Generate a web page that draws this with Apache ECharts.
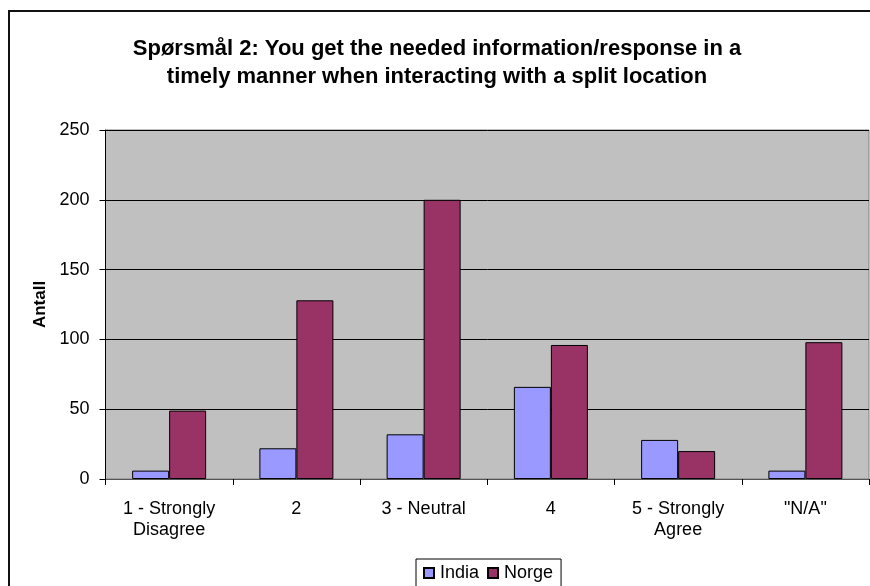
<!DOCTYPE html>
<html>
<head>
<meta charset="utf-8">
<script src="https://cdn.jsdelivr.net/npm/echarts@6/dist/echarts.min.js"></script>
<style>html,body{margin:0;padding:0;background:#fff;}#c{width:870px;height:586px;}</style>
</head>
<body>
<div id="c"></div>
<script>
const categories = ['1 - Strongly\nDisagree', '2', '3 - Neutral', '4', '5 - Strongly\nAgree', '"N/A"'];
const india = [6, 22, 32, 66, 28, 6];
const norge = [49, 128, 200, 96, 20, 98];
const yTicks = { min: 0, max: 250, interval: 50 };

const chart = echarts.init(document.getElementById('c'), null, { renderer: 'canvas' });
const font = 'Arial, "Liberation Sans", sans-serif';
chart.setOption({
  animation: false,
  backgroundColor: '#fff',
  title: {
    text: 'Spørsmål 2: You get the needed information/response in a\ntimely manner when interacting with a split location',
    left: 437, textAlign: 'center', top: 35, padding: 0,
    textStyle: { fontFamily: font, fontSize: 22, fontWeight: 'bold', color: '#000', lineHeight: 28 }
  },
  graphic: [{
    type: 'rect', shape: { x: 9, y: 11, width: 900, height: 700 },
    style: { fill: 'none', stroke: '#111', lineWidth: 2 }, silent: true, z: -1
  }],
  legend: {
    data: ['India', 'Norge'], left: 416, top: 559, padding: [5, 8, 12, 7],
    borderColor: '#000', borderWidth: 1, itemGap: 8, itemWidth: 10, itemHeight: 10,
    icon: 'rect',
    textStyle: { fontFamily: font, fontSize: 18, color: '#000', padding: [0, 0, 0, 1] }
  },
  grid: { left: 105.5, right: 1, top: 130, bottom: 107, show: true, backgroundColor: '#C0C0C0', borderColor: '#808080', borderWidth: 1 },
  xAxis: {
    type: 'category', data: categories,
    axisLine: { lineStyle: { color: '#555', width: 1 } },
    axisTick: { show: true, length: 6, lineStyle: { color: '#000' } },
    axisLabel: { fontFamily: font, fontSize: 18, color: '#000', margin: 20, lineHeight: 21 }
  },
  yAxis: {
    type: 'value', min: yTicks.min, max: yTicks.max, interval: yTicks.interval,
    name: 'Antall', nameLocation: 'middle', nameGap: 57, nameRotate: 90,
    nameTextStyle: { fontFamily: font, fontSize: 17, fontWeight: 'bold', color: '#000' },
    axisLine: { show: true, lineStyle: { color: '#000', width: 1 } },
    axisTick: { show: true, length: 6, lineStyle: { color: '#000' } },
    axisLabel: { fontFamily: font, fontSize: 18, color: '#000', margin: 16 },
    splitLine: { show: true, lineStyle: { color: '#000', width: 1 } }
  },
  series: [
    { name: 'India', type: 'bar', data: india, barWidth: 37, barGap: '0%',
      itemStyle: { color: '#9999FF', borderColor: '#000', borderWidth: 1 } },
    { name: 'Norge', type: 'bar', data: norge, barWidth: 37, barGap: '0%',
      itemStyle: { color: '#993366', borderColor: '#000', borderWidth: 1 } }
  ]
});
</script>
</body>
</html>
